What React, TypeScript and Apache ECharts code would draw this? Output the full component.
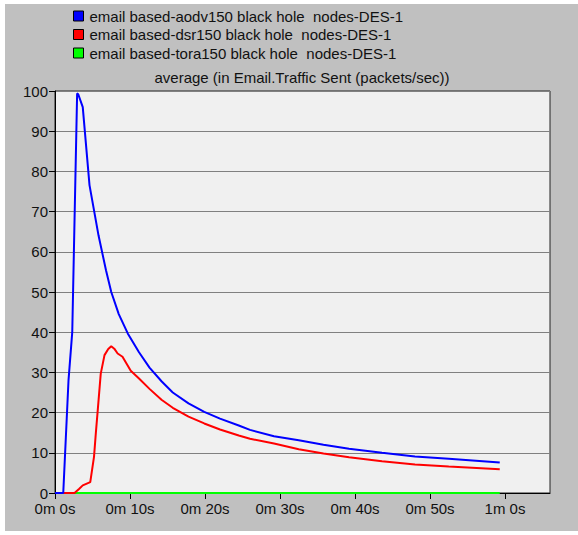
import React, { useEffect, useRef } from "react";
import * as echarts from "echarts";

const titleText = "average (in Email.Traffic Sent (packets/sec))";
const seriesNames = [
  "email based-aodv150 black hole  nodes-DES-1",
  "email based-dsr150 black hole  nodes-DES-1",
  "email based-tora150 black hole  nodes-DES-1",
];
const seriesColors = ["#0000ff", "#ff0000", "#00ff00"];

const xTickValues = [0, 10, 20, 30, 40, 50, 60];
const xTickLabels = ["0m 0s", "0m 10s", "0m 20s", "0m 30s", "0m 40s", "0m 50s", "1m 0s"];

const aodvTime = [0, 1.1, 1.8, 2.3, 2.95, 3.1, 3.7, 4.6, 5.8, 6.8, 7.5, 8.5, 9.7, 11.2, 12.6, 14.2, 15.7, 17.8, 19.9, 22.0, 24.5, 26.0, 29.2, 32.5, 35.8, 39.2, 43.6, 48.0, 52.5, 59.3];
const aodvValues = [0, 0, 28, 40, 99.4, 99.2, 96, 76.6, 64.1, 55.4, 50, 44.5, 39.7, 35, 31.2, 27.8, 25.0, 22.3, 20.2, 18.5, 16.8, 15.7, 14.1, 13.1, 12.0, 11.0, 10.0, 9.1, 8.5, 7.6];

const dsrTime = [0, 2.6, 3.2, 3.7, 4.7, 5.2, 5.45, 5.7, 6.1, 6.6, 7.1, 7.5, 7.9, 8.35, 9.0, 10.1, 11.2, 12.6, 14.2, 15.7, 17.8, 19.9, 22.0, 24.5, 26.0, 29.2, 32.5, 35.8, 39.2, 43.6, 48.0, 52.5, 59.3];
const dsrValues = [0, 0, 1.0, 1.9, 2.7, 9, 15, 20.6, 29.7, 34.3, 35.8, 36.5, 35.9, 34.7, 33.9, 30.4, 28.5, 25.9, 23.2, 21.2, 19.0, 17.3, 15.8, 14.3, 13.5, 12.3, 10.9, 9.8, 8.9, 7.9, 7.1, 6.6, 5.9];

const toraTime = [0, 10, 20, 30, 40, 50, 59.3];
const toraValues = [0, 0, 0, 0, 0, 0, 0];

const FONT = "'Liberation Sans', Arial, sans-serif";
const FS = 15;

function pairs(t: number[], v: number[]) {
  return t.map((x, i) => [x, v[i]]);
}

export default function App() {
  const ref = useRef<HTMLDivElement>(null);
  useEffect(() => {
    if (!ref.current) return;
    const chart = echarts.init(ref.current, null, { renderer: "svg" });
    const mkSeries = (idx: number, data: number[][], z: number) => ({
      name: seriesNames[idx],
      type: "line",
      data,
      showSymbol: false,
      symbol: "none",
      z,
      lineStyle: { color: seriesColors[idx], width: 2 },
      itemStyle: { color: seriesColors[idx] },
    });
    chart.setOption({
      animation: false,
      backgroundColor: "#ffffff",
      textStyle: { fontFamily: FONT },
      graphic: [
        {
          type: "rect",
          z: -10,
          silent: true,
          shape: { x: 5, y: 4, width: 573, height: 527 },
          style: { fill: "#c0c0c0" },
        },
      ],
      title: {
        text: titleText,
        left: 302,
        top: 70,
        textAlign: "center",
        padding: 0,
        textStyle: { fontSize: FS, fontWeight: "normal", color: "#111", fontFamily: FONT },
      },
      legend: {
        orient: "vertical",
        left: 73,
        top: 7,
        padding: 0,
        icon: "rect",
        itemWidth: 10,
        itemHeight: 10,
        itemGap: 0.5,
        data: seriesNames,
        selectedMode: false,
        itemStyle: { borderColor: "#000", borderWidth: 1 },
        textStyle: { fontSize: FS, color: "#111", fontFamily: FONT, lineHeight: 18, padding: [0, 0, 0, 1] },
      },
      grid: {
        left: 55,
        right: 28,
        top: 91,
        bottom: 42,
        show: true,
        backgroundColor: "#f0f0f0",
        borderColor: "#222",
        borderWidth: 1,
      },
      xAxis: {
        type: "value",
        min: 0,
        max: 66,
        interval: 10,
        axisLine: { show: true, lineStyle: { color: "#000", width: 1 } },
        axisTick: {
          show: true,
          length: 6,
          customValues: xTickValues,
          lineStyle: { color: "#000" },
        },
        axisLabel: {
          customValues: xTickValues,
          formatter: (v: number) => {
            const i = xTickValues.indexOf(v);
            return i >= 0 ? xTickLabels[i] : "";
          },
          color: "#111",
          fontSize: FS,
          fontFamily: FONT,
          margin: 8,
        },
        splitLine: { show: false },
      },
      yAxis: {
        type: "value",
        min: 0,
        max: 100,
        interval: 10,
        axisLine: { show: true, lineStyle: { color: "#000", width: 1 } },
        axisTick: { show: true, length: 6, lineStyle: { color: "#000" } },
        axisLabel: { color: "#111", fontSize: FS, fontFamily: FONT, margin: 7 },
        splitLine: { show: true, lineStyle: { color: "#808080", width: 1 } },
      },
      series: [
        mkSeries(2, pairs(toraTime, toraValues), 2),
        mkSeries(1, pairs(dsrTime, dsrValues), 3),
        mkSeries(0, pairs(aodvTime, aodvValues), 4),
      ],
    });
    return () => chart.dispose();
  }, []);
  return (
    <div
      ref={ref}
      style={{ position: "fixed", left: 0, top: 0, width: 578, height: 535 }}
    />
  );
}
